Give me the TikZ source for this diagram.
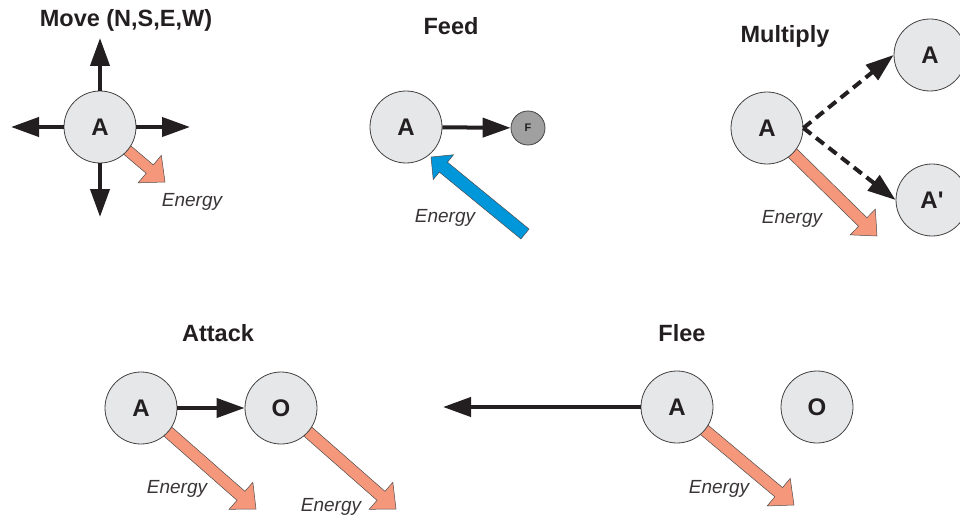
\documentclass[tikz,border=0pt]{standalone}
\usepackage{fontspec}
\setmainfont{Liberation Sans}
\usetikzlibrary{arrows.meta,calc}
\definecolor{circfill}{HTML}{E6E7E8}
\definecolor{ffill}{HTML}{A0A0A0}
\definecolor{salmon}{HTML}{F4977A}
\definecolor{ebl}{HTML}{0096DA}
\definecolor{ink}{HTML}{231F20}
\pgfdeclarelayer{bg}
\pgfsetlayers{bg,main}
% #1 name, #2 start, #3 tip, #4 shaft half, #5 head half, #6 head length, #7 style
\newcommand\fatarrow[7]{%
  \coordinate (#1b) at ($(#3)!#6!(#2)$);
  \draw[#7] ($(#2)!#4!90:(#3)$) -- ($(#1b)!#4!-90:(#2)$) -- ($(#1b)!#5!-90:(#2)$)
    -- (#3) -- ($(#1b)!#5!90:(#2)$) -- ($(#1b)!#4!90:(#2)$) -- ($(#2)!#4!-90:(#3)$) -- cycle;
}
\tikzset{
  agent/.style={circle, minimum size=72pt, inner sep=0pt, fill=circfill, draw=ink!85,
    line width=0.8pt, text=ink, font=\fontsize{24}{28}\selectfont\bfseries},
  food/.style={circle, minimum size=34pt, inner sep=0pt, fill=ffill, draw=ink!85,
    line width=0.8pt, text=ink, font=\fontsize{11}{13}\selectfont\bfseries},
  title/.style={anchor=base, text=ink, font=\fontsize{23.5}{28}\selectfont\bfseries},
  elabel/.style={anchor=base, text=ink!90, font=\fontsize{19}{23}\selectfont\itshape},
  blk/.style={draw=ink, line width=4pt, -{Triangle[length=28pt 0 0,width=19pt 0]}},
  dsh/.style={blk, dash pattern=on 10pt off 6pt},
  energy/.style={fill=salmon, draw=ink!80, line width=0.5pt, line join=miter},
  gain/.style={fill=ebl, draw=ink!80, line width=0.5pt, line join=miter}
}
\begin{document}
\begin{tikzpicture}[x=1pt,y=-1pt]
\useasboundingbox (0,0) rectangle (960,516);

% ---------- Move ----------
\node[title] (tMove) at (126,27) {Move (N,S,E,W)};
\node[agent] (mvA) at (100,127) {A};
\coordinate (mvN) at (100,38);
\coordinate (mvS) at (100,217);
\coordinate (mvW) at (11,127);
\coordinate (mvE) at (190,127);
\coordinate (mvT) at (165,182);
\draw[blk] (mvA) -- (mvN);
\draw[blk] (mvA) -- (mvS);
\draw[blk] (mvA) -- (mvW);
\draw[blk] (mvA) -- (mvE);
\begin{pgfonlayer}{bg}
  \fatarrow{mvEn}{mvA.center}{mvT}{5.5pt}{18pt}{20pt}{energy}
\end{pgfonlayer}
\node[elabel] (lMove) at (192,206) {Energy};

% ---------- Feed ----------
\node[title] (tFeed) at (451,35) {Feed};
\node[agent] (fdA) at (406,127) {A};
\node[food] (fdF) at (528,128) {F};
\draw[blk] (fdA) -- (fdF);
\coordinate (fdTail) at (525,234);
\coordinate (fdTip) at (431,157);
\begin{pgfonlayer}{bg}
  \fatarrow{fdE}{fdTail}{fdTip}{6.4pt}{16pt}{16pt}{gain}
\end{pgfonlayer}
\node[elabel] (lFeed) at (445,222) {Energy};

% ---------- Multiply ----------
\node[title] (tMul) at (785,43) {Multiply};
\node[agent] (muA) at (767,128) {A};
\node[agent] (muA1) at (930,55) {A};
\node[agent] (muA2) at (932,200) {A{\addfontfeatures{Ligatures=TeXOff}'}};
\draw[dsh] (muA.east) -- (muA1.west);
\draw[dsh] (muA.east) -- (muA2.west);
\coordinate (muT) at (877,236);
\begin{pgfonlayer}{bg}
  \fatarrow{muE}{muA.center}{muT}{6pt}{18pt}{20pt}{energy}
\end{pgfonlayer}
\node[elabel] (lMul) at (792,223) {Energy};

% ---------- Attack ----------
\node[title] (tAtt) at (218,341) {Attack};
\node[agent] (atA) at (141,408) {A};
\node[agent] (atO) at (281,408) {O};
\draw[blk] (atA) -- (atO);
\coordinate (atT1) at (256,509);
\coordinate (atT2) at (396,509);
\begin{pgfonlayer}{bg}
  \fatarrow{atE1}{atA.center}{atT1}{6pt}{18pt}{20pt}{energy}
  \fatarrow{atE2}{atO.center}{atT2}{6pt}{18pt}{20pt}{energy}
\end{pgfonlayer}
\node[elabel] (lAtt1) at (177,493) {Energy};
\node[elabel] (lAtt2) at (331,511) {Energy};

% ---------- Flee ----------
\node[title] (tFlee) at (682,341) {Flee};
\node[agent] (flA) at (677,407) {A};
\node[agent] (flO) at (817,407) {O};
\coordinate (flW) at (443,407);
\draw[blk] (flA) -- (flW);
\coordinate (flT) at (794,505);
\begin{pgfonlayer}{bg}
  \fatarrow{flE}{flA.center}{flT}{6pt}{18pt}{20pt}{energy}
\end{pgfonlayer}
\node[elabel] (lFlee) at (719,493) {Energy};
\end{tikzpicture}
\end{document}
